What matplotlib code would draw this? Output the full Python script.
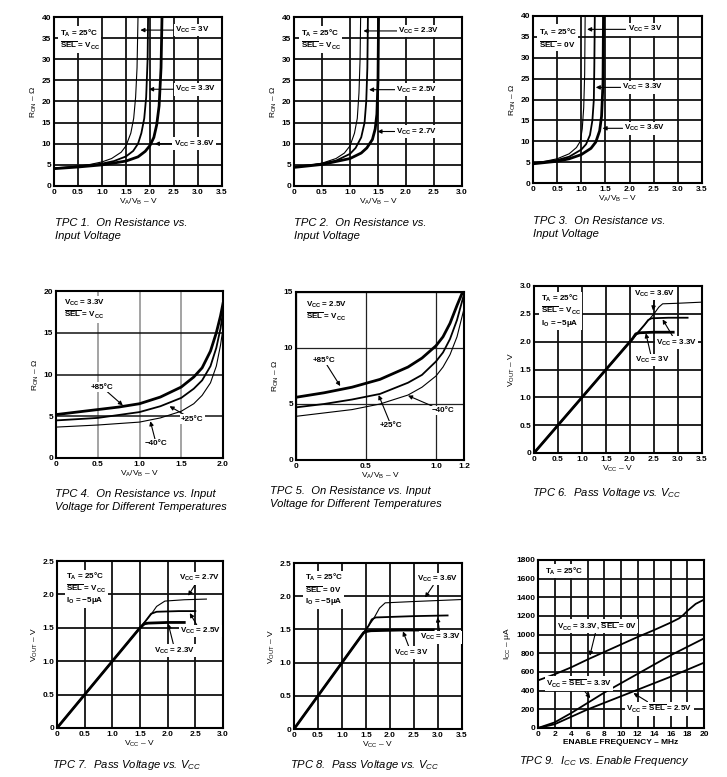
import matplotlib
matplotlib.use("Agg")
from matplotlib import pyplot as plt
from matplotlib.ticker import FixedLocator, FixedFormatter

plt.rcParams['font.family'] = ['Liberation Sans', 'DejaVu Sans']
plt.rcParams['mathtext.fontset'] = 'custom'
plt.rcParams['mathtext.rm'] = 'Liberation Sans'
plt.rcParams['mathtext.it'] = 'Liberation Sans:italic'
plt.rcParams['mathtext.bf'] = 'Liberation Sans:bold'

W, H = 727, 777

# ---------------- data ----------------
# TPC 1: R_on vs V_A/V_B, SEL = Vcc
tpc1_x30 = [0, 0.25, 0.5, 0.75, 1.0, 1.2, 1.4, 1.5, 1.6, 1.66, 1.7, 1.73, 1.75]
tpc1_r30 = [4.2, 4.4, 4.7, 5.1, 5.7, 6.5, 8.0, 9.5, 12.5, 16, 21, 28, 40]
tpc1_x33 = [0, 0.5, 1.0, 1.25, 1.5, 1.65, 1.75, 1.82, 1.88, 1.92, 1.95, 1.96]
tpc1_r33 = [4.2, 4.6, 5.3, 5.9, 7.0, 8.3, 10, 12.5, 16, 21, 30, 40]
tpc1_x36 = [0, 0.5, 1.0, 1.5, 1.75, 1.9, 2.0, 2.08, 2.14, 2.19, 2.23, 2.25]
tpc1_r36 = [4.1, 4.5, 5.0, 5.9, 6.9, 8.2, 9.6, 11.5, 14.5, 19, 28, 40]

# TPC 2
tpc2_x23 = [0, 0.25, 0.5, 0.75, 0.9, 1.0, 1.08, 1.13, 1.16, 1.18, 1.19]
tpc2_r23 = [4.5, 4.8, 5.4, 6.5, 7.8, 9.5, 12.5, 16, 22, 30, 40]
tpc2_x25 = [0, 0.5, 0.75, 1.0, 1.1, 1.2, 1.26, 1.29, 1.31, 1.32]
tpc2_r25 = [4.5, 5.3, 6.0, 7.6, 9.0, 11.5, 15, 20, 28, 40]
tpc2_x27 = [0, 0.5, 1.0, 1.2, 1.3, 1.4, 1.45, 1.48, 1.5, 1.51]
tpc2_r27 = [4.4, 5.1, 6.5, 7.8, 9.0, 11.0, 13.5, 17, 25, 40]

# TPC 3: SEL = 0V
tpc3_x30 = [0, 0.25, 0.5, 0.75, 0.9, 0.98, 1.02, 1.05, 1.07, 1.08]
tpc3_r30 = [4.8, 5.2, 5.8, 7.0, 8.5, 10, 13, 18, 26, 40]
tpc3_x33 = [0, 0.5, 0.75, 1.0, 1.1, 1.18, 1.23, 1.26, 1.27, 1.28]
tpc3_r33 = [4.7, 5.5, 6.3, 8.0, 9.3, 11.5, 15, 20, 28, 40]
tpc3_x36 = [0, 0.5, 0.75, 1.0, 1.2, 1.3, 1.38, 1.42, 1.45, 1.46]
tpc3_r36 = [4.6, 5.2, 5.8, 6.8, 8.3, 9.8, 12.5, 16, 24, 40]

# TPC 4: temperatures, Vcc = 3.3V
tpc4_x85 = [0, 0.25, 0.5, 0.75, 1.0, 1.25, 1.5, 1.65, 1.75, 1.85, 1.92, 1.97, 2.0]
tpc4_r85 = [5.2, 5.5, 5.8, 6.1, 6.5, 7.3, 8.5, 9.7, 10.8, 12.8, 15, 17, 18.5]
tpc4_x25 = [0, 0.5, 1.0, 1.25, 1.5, 1.65, 1.75, 1.85, 1.92, 1.97, 2.0]
tpc4_r25 = [4.5, 4.8, 5.5, 6.2, 7.2, 8.3, 9.3, 11.0, 13.2, 15.5, 17.5]
tpc4_xm40 = [0, 0.5, 1.0, 1.25, 1.5, 1.65, 1.75, 1.85, 1.92, 1.97, 2.0]
tpc4_rm40 = [3.7, 3.95, 4.3, 4.8, 5.6, 6.5, 7.5, 9.0, 11, 13.5, 15.5]

# TPC 5: temperatures, Vcc = 2.5V
tpc5_x85 = [0, 0.2, 0.4, 0.6, 0.8, 0.9, 1.0, 1.05, 1.1, 1.15, 1.19]
tpc5_r85 = [5.6, 6.0, 6.5, 7.2, 8.3, 9.1, 10.2, 11.0, 12.2, 13.8, 15]
tpc5_x25 = [0, 0.2, 0.4, 0.6, 0.8, 0.9, 1.0, 1.05, 1.1, 1.15, 1.2]
tpc5_r25 = [4.7, 5.0, 5.4, 5.9, 6.9, 7.6, 8.8, 9.6, 10.8, 12.5, 14.8]
tpc5_xm40 = [0, 0.2, 0.4, 0.6, 0.8, 0.9, 1.0, 1.05, 1.1, 1.15, 1.2]
tpc5_rm40 = [3.9, 4.2, 4.5, 5.0, 5.8, 6.5, 7.5, 8.3, 9.4, 11, 13.5]

# TPC 6: pass voltage, SEL = Vcc
tpc6_x30 = [0, 2.05, 2.12, 2.2, 2.5, 2.9]
tpc6_v30 = [0, 2.05, 2.14, 2.16, 2.17, 2.17]
tpc6_x33 = [0, 2.3, 2.38, 2.45, 2.8, 3.2]
tpc6_v33 = [0, 2.3, 2.39, 2.42, 2.43, 2.43]
tpc6_x36 = [0, 2.5, 2.6, 2.68, 3.0, 3.5]
tpc6_v36 = [0, 2.5, 2.62, 2.68, 2.69, 2.71]

# TPC 7
tpc7_x23 = [0, 1.5, 1.58, 1.65, 2.0, 2.3]
tpc7_v23 = [0, 1.5, 1.56, 1.57, 1.58, 1.58]
tpc7_x25 = [0, 1.6, 1.7, 1.8, 2.2, 2.5]
tpc7_v25 = [0, 1.6, 1.71, 1.74, 1.75, 1.75]
tpc7_x27 = [0, 1.7, 1.8, 1.95, 2.3, 2.7]
tpc7_v27 = [0, 1.7, 1.82, 1.9, 1.92, 1.93]

# TPC 8: SEL = 0V
tpc8_x30 = [0, 1.45, 1.52, 1.6, 2.2, 2.9]
tpc8_v30 = [0, 1.45, 1.47, 1.48, 1.49, 1.49]
tpc8_x33 = [0, 1.55, 1.62, 1.7, 2.5, 3.2]
tpc8_v33 = [0, 1.55, 1.65, 1.68, 1.7, 1.71]
tpc8_x36 = [0, 1.65, 1.78, 1.9, 2.5, 3.5]
tpc8_v36 = [0, 1.65, 1.82, 1.9, 1.92, 1.95]

# TPC 9: Icc vs enable frequency
tpc9_f_sel0 = [0, 0, 2, 4, 6, 8, 10, 12, 14, 16, 17, 17.5, 18, 19, 20]
tpc9_i_sel0 = [80, 510, 575, 650, 735, 815, 895, 975, 1050, 1130, 1175, 1210, 1255, 1330, 1375]
tpc9_f = [0, 2, 4, 6, 8, 10, 12, 14, 16, 18, 20]
tpc9_i33 = [0, 60, 160, 270, 380, 480, 580, 680, 780, 870, 960]
tpc9_i25 = [0, 40, 120, 200, 270, 340, 410, 480, 550, 625, 700]

# tick labels
ticks_35 = ['0', '0.5', '1.0', '1.5', '2.0', '2.5', '3.0', '3.5']
ticks_30 = ['0', '0.5', '1.0', '1.5', '2.0', '2.5', '3.0']
ticks_r40 = ['0', '5', '10', '15', '20', '25', '30', '35', '40']
ticks_v30 = ['0', '0.5', '1.0', '1.5', '2.0', '2.5', '3.0']
ticks_v25 = ['0', '0.5', '1.0', '1.5', '2.0', '2.5']

captions = [
    "TPC 1.  On Resistance vs.\nInput Voltage",
    "TPC 2.  On Resistance vs.\nInput Voltage",
    "TPC 3.  On Resistance vs.\nInput Voltage",
    "TPC 4.  On Resistance vs. Input\nVoltage for Different Temperatures",
    "TPC 5.  On Resistance vs. Input\nVoltage for Different Temperatures",
    r"TPC 6.  Pass Voltage vs. V$_{\mathit{CC}}$",
    r"TPC 7.  Pass Voltage vs. V$_{\mathit{CC}}$",
    r"TPC 8.  Pass Voltage vs. V$_{\mathit{CC}}$",
    r"TPC 9.  I$_{\mathit{CC}}$ vs. Enable Frequency",
]

# ---------------- helpers ----------------
VCC = r"$\mathbf{V}_{\mathbf{CC}}$"
SEL = r"$\overline{\mathbf{SEL}}$"
TA = r"$\mathbf{T}_{\mathbf{A}}$"
IO = r"$\mathbf{I}_{\mathbf{O}}$"
RON = r"R$_{\mathrm{ON}}$ – Ω"
VAVB = r"V$_{\mathrm{A}}$/V$_{\mathrm{B}}$ – V"
VOUT = r"V$_{\mathrm{OUT}}$ – V"
VCCV = r"V$_{\mathrm{CC}}$ – V"

THIN, MED, THICK = 0.8, 1.3, 2.0

fig = plt.figure(figsize=(W / 100, H / 100), dpi=100)


def place(l, t, r, b):
    return fig.add_axes([l / W, 1 - b / H, (r - l) / W, (b - t) / H])


def setup(ax, xt, xl, yt, yl, xlim, ylim, xlabel, ylabel, gridx='#111111', gridy='#111111', glw=1.3):
    ax.set_xlim(*xlim)
    ax.set_ylim(*ylim)
    ax.xaxis.set_major_locator(FixedLocator(xt))
    ax.xaxis.set_major_formatter(FixedFormatter(xl))
    ax.yaxis.set_major_locator(FixedLocator(yt))
    ax.yaxis.set_major_formatter(FixedFormatter(yl))
    ax.tick_params(length=0, pad=2, labelsize=6)
    for lab in ax.get_xticklabels() + ax.get_yticklabels():
        lab.set_fontweight('bold')
    ax.grid(True, axis='x', color=gridx, lw=glw)
    ax.grid(True, axis='y', color=gridy, lw=glw)
    ax.set_axisbelow(True)
    for s in ax.spines.values():
        s.set_linewidth(1.5)
    ax.set_xlabel(xlabel, fontsize=6, labelpad=1)
    ax.set_ylabel(ylabel, fontsize=6, labelpad=2)


def label(ax, text, xy, xytext, ha='left', va='center'):
    ax.annotate(text, xy=xy, xytext=xytext, ha=ha, va=va, fontsize=5.8, fontweight='bold',
                bbox=dict(boxstyle='square,pad=0.15', fc='white', ec='none'),
                arrowprops=dict(arrowstyle='-|>', color='black', lw=0.8, mutation_scale=6,
                                shrinkA=0, shrinkB=0))


def info(ax, text, x, y):
    ax.text(x, y, text, ha='left', va='top', fontsize=5.8, fontweight='bold', linespacing=1.1,
            bbox=dict(boxstyle='square,pad=0.2', fc='white', ec='none'))


xt35 = [0, 0.5, 1.0, 1.5, 2.0, 2.5, 3.0, 3.5]
xt30 = [0, 0.5, 1.0, 1.5, 2.0, 2.5, 3.0]
yt40 = [0, 5, 10, 15, 20, 25, 30, 35, 40]

# ---- TPC 1
ax = place(54, 17, 222, 186)
setup(ax, xt35, ticks_35, yt40, ticks_r40, (0, 3.5), (0, 40), VAVB, RON)
ax.plot(tpc1_x30, tpc1_r30, color='black', lw=THIN)
ax.plot(tpc1_x33, tpc1_r33, color='black', lw=MED)
ax.plot(tpc1_x36, tpc1_r36, color='black', lw=THICK)
info(ax, TA + r" = 25°C" + "\n" + SEL + " = " + VCC, 0.12, 37.5)
label(ax, VCC + " = 3V", (1.8, 36.9), (2.52, 36.9))
label(ax, VCC + " = 3.3V", (1.98, 22.9), (2.52, 22.9))
label(ax, VCC + " = 3.6V", (2.1, 10.0), (2.49, 10.0))

# ---- TPC 2
ax = place(294, 17, 462, 186)
setup(ax, xt30, ticks_30, yt40, ticks_r40, (0, 3.0), (0, 40), VAVB, RON)
ax.plot(tpc2_x23, tpc2_r23, color='black', lw=THIN)
ax.plot(tpc2_x25, tpc2_r25, color='black', lw=MED)
ax.plot(tpc2_x27, tpc2_r27, color='black', lw=THICK)
info(ax, TA + r" = 25°C" + "\n" + SEL + " = " + VCC, 0.12, 37.5)
label(ax, VCC + " = 2.3V", (1.24, 36.7), (1.86, 36.7))
label(ax, VCC + " = 2.5V", (1.34, 22.8), (1.83, 22.8))
label(ax, VCC + " = 2.7V", (1.49, 12.9), (1.83, 12.9))

# ---- TPC 3
ax = place(533, 16, 702, 183)
setup(ax, xt35, ticks_35, yt40, ticks_r40, (0, 3.5), (0, 40), VAVB, RON)
ax.plot(tpc3_x30, tpc3_r30, color='black', lw=THIN)
ax.plot(tpc3_x33, tpc3_r33, color='black', lw=MED)
ax.plot(tpc3_x36, tpc3_r36, color='black', lw=THICK)
info(ax, TA + r" = 25°C" + "\n" + SEL + " = 0V", 0.12, 37.5)
label(ax, VCC + " = 3V", (1.12, 36.8), (1.96, 36.8))
label(ax, VCC + " = 3.3V", (1.30, 22.9), (1.84, 22.9))
label(ax, VCC + " = 3.6V", (1.44, 13.1), (1.88, 13.1))

# ---- TPC 4
ax = place(56, 291, 223, 458)
setup(ax, [0, 0.5, 1.0, 1.5, 2.0], ['0', '0.5', '1.0', '1.5', '2.0'], [0, 5, 10, 15, 20],
      ['0', '5', '10', '15', '20'], (0, 2.0), (0, 20), VAVB, RON, gridx='#8a8a8a', gridy='#111111', glw=1.1)
ax.plot(tpc4_x85, tpc4_r85, color='black', lw=THICK)
ax.plot(tpc4_x25, tpc4_r25, color='black', lw=MED)
ax.plot(tpc4_xm40, tpc4_rm40, color='black', lw=THIN)
info(ax, VCC + " = 3.3V\n" + SEL + " = " + VCC, 0.09, 19.2)
label(ax, r"+85°C", (0.8, 6.3), (0.55, 8.5), ha='center')
label(ax, r"+25°C", (1.36, 6.2), (1.63, 4.65), ha='center')
label(ax, r"−40°C", (1.13, 4.4), (1.2, 1.7), ha='center')

# ---- TPC 5
ax = place(296, 292, 464, 460)
setup(ax, [0, 0.5, 1.0, 1.2], ['0', '0.5', '1.0', '1.2'], [0, 5, 10, 15],
      ['0', '5', '10', '15'], (0, 1.2), (0, 15), VAVB, RON, gridx='#222222', gridy='#222222', glw=0.9)
ax.plot(tpc5_x85, tpc5_r85, color='black', lw=THICK)
ax.plot(tpc5_x25, tpc5_r25, color='black', lw=MED)
ax.plot(tpc5_xm40, tpc5_rm40, color='black', lw=THIN)
info(ax, VCC + " = 2.5V\n" + SEL + " = " + VCC, 0.07, 14.3)
label(ax, r"+85°C", (0.316, 6.6), (0.2, 8.9), ha='center')
label(ax, r"+25°C", (0.59, 5.8), (0.68, 3.06), ha='center')
label(ax, r"−40°C", (0.8, 5.75), (1.05, 4.4), ha='center')

# ---- TPC 6
ax = place(534, 286, 702, 453)
setup(ax, xt35, ticks_35, [0, 0.5, 1.0, 1.5, 2.0, 2.5, 3.0], ticks_v30, (0, 3.5), (0, 3.0), VCCV, VOUT)
ax.plot(tpc6_x30, tpc6_v30, color='black', lw=THICK)
ax.plot(tpc6_x33, tpc6_v33, color='black', lw=MED)
ax.plot(tpc6_x36, tpc6_v36, color='black', lw=THIN)
info(ax, TA + r" = 25°C" + "\n" + SEL + " = " + VCC + "\n" + IO + " = −5μA", 0.14, 2.88)
label(ax, VCC + " = 3.6V", (2.48, 2.56), (2.09, 2.86))
label(ax, VCC + " = 3.3V", (2.68, 2.40), (2.54, 1.98))
label(ax, VCC + " = 3V", (2.33, 2.15), (2.1, 1.67))

# ---- TPC 7
ax = place(57, 561, 223, 728)
setup(ax, xt30, ticks_30, [0, 0.5, 1.0, 1.5, 2.0, 2.5], ticks_v25, (0, 3.0), (0, 2.5), VCCV, VOUT)
ax.plot(tpc7_x23, tpc7_v23, color='black', lw=THICK)
ax.plot(tpc7_x25, tpc7_v25, color='black', lw=MED)
ax.plot(tpc7_x27, tpc7_v27, color='black', lw=THIN)
info(ax, TA + r" = 25°C" + "\n" + SEL + " = " + VCC + "\n" + IO + " = −5μA", 0.17, 2.36)
label(ax, VCC + " = 2.7V", (2.37, 1.98), (2.2, 2.24))
label(ax, VCC + " = 2.5V", (2.4, 1.72), (2.22, 1.45))
label(ax, VCC + " = 2.3V", (2.01, 1.56), (1.76, 1.16))

# ---- TPC 8
ax = place(294, 563, 462, 729)
setup(ax, xt35, ticks_35, [0, 0.5, 1.0, 1.5, 2.0, 2.5], ticks_v25, (0, 3.5), (0, 2.5), VCCV, VOUT)
ax.plot(tpc8_x30, tpc8_v30, color='black', lw=THICK)
ax.plot(tpc8_x33, tpc8_v33, color='black', lw=MED)
ax.plot(tpc8_x36, tpc8_v36, color='black', lw=THIN)
info(ax, TA + r" = 25°C" + "\n" + SEL + " = 0V\n" + IO + " = −5μA", 0.22, 2.36)
label(ax, VCC + " = 3.6V", (2.73, 1.98), (2.56, 2.26))
label(ax, VCC + " = 3.3V", (2.99, 1.68), (2.62, 1.38))
label(ax, VCC + " = 3V", (2.27, 1.47), (2.08, 1.15))

# ---- TPC 9
ax = place(538, 560, 704, 728)
setup(ax, list(range(0, 21, 2)), [str(v) for v in range(0, 21, 2)], list(range(0, 1801, 200)),
      [str(v) for v in range(0, 1801, 200)], (0, 20), (0, 1800),
      "ENABLE FREQUENCY – MHz", r"I$_{\mathrm{CC}}$ – μA")
ax.xaxis.label.set_fontweight('bold')
ax.plot(tpc9_f_sel0, tpc9_i_sel0, color='black', lw=MED)
ax.plot(tpc9_f, tpc9_i33, color='black', lw=MED)
ax.plot(tpc9_f, tpc9_i25, color='black', lw=MED)
info(ax, TA + r" = 25°C", 0.9, 1740)
label(ax, VCC + " = 3.3V, " + SEL + " = 0V", (6.24, 773), (2.3, 1094))
label(ax, VCC + " = " + SEL + " = 3.3V", (6.3, 320), (0.93, 474))
label(ax, VCC + " = " + SEL + " = 2.5V", (11.5, 374), (10.66, 203))

# ---- captions
cap_pos = [(55, 218), (294, 218), (533, 216),
           (55, 489), (270, 486), (532, 486),
           (52, 758), (290, 758), (519, 754)]
for (cx, cy), txt in zip(cap_pos, captions):
    fig.text(cx / W, 1 - cy / H, txt, ha='left', va='top', fontsize=8.1, style='italic',
             linespacing=1.35)

fig.savefig('out.png', dpi=100)
